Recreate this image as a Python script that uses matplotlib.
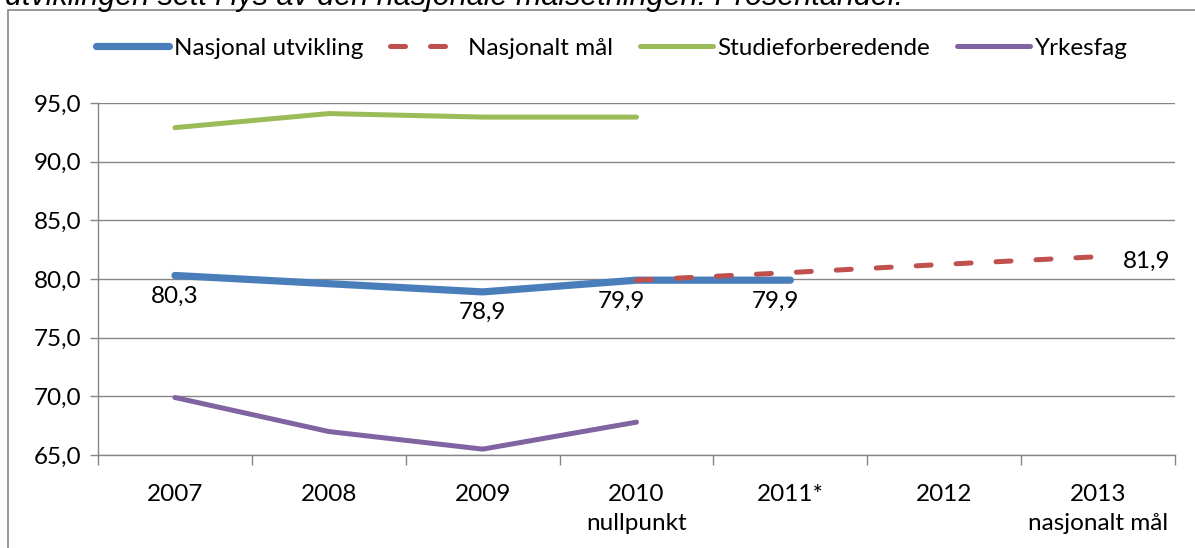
import matplotlib
matplotlib.use("Agg")
import matplotlib.pyplot as plt
from matplotlib.lines import Line2D
from matplotlib.patches import Rectangle

plt.rcParams['font.family'] = ['Lato', 'DejaVu Sans']

categories = ["2007", "2008", "2009", "2010\nnullpunkt", "2011*", "2012", "2013\nnasjonalt mål"]
nasjonal_utvikling = [80.3, 79.6, 78.9, 79.9, 79.9]
nasjonalt_maal = [79.9, 80.55, 81.25, 81.9]          # 2010-2013
studieforberedende = [92.9, 94.1, 93.8, 93.8]          # 2007-2010
yrkesfag = [69.9, 67.0, 65.5, 67.8]                    # 2007-2010
yticks = [65.0, 70.0, 75.0, 80.0, 85.0, 90.0, 95.0]
title = "utviklingen sett i lys av den nasjonale målsetningen. Prosentandel."

BLUE = "#4a7ebb"
RED = "#c0504d"
GREEN = "#9bbb59"
PURPLE = "#8064a2"
FS = 17.5

fig = plt.figure(figsize=(11.95, 5.48), dpi=100)
ax = fig.add_axes([98/1195, 1-455/548, (1175-98)/1195, (455-103)/548])

x_all = list(range(len(categories)))
ax.plot(x_all[:len(studieforberedende)], studieforberedende, color=GREEN, lw=3.6,
        solid_capstyle='round', solid_joinstyle='round', zorder=3)
ax.plot(x_all[:len(yrkesfag)], yrkesfag, color=PURPLE, lw=3.6,
        solid_capstyle='round', solid_joinstyle='round', zorder=3)
ax.plot(x_all[:len(nasjonal_utvikling)], nasjonal_utvikling, color=BLUE, lw=5.2,
        solid_capstyle='round', solid_joinstyle='round', zorder=3)
start = 3
ax.plot(x_all[start:start+len(nasjonalt_maal)], nasjonalt_maal, color=RED, lw=3.6,
        dashes=(3, 5), dash_capstyle='round', zorder=4)

def fmt(v):
    return f"{v:.1f}".replace(".", ",")

# data labels
for i in [0, 2, 3, 4]:
    dx = -11 if i in (3, 4) else 0
    ax.annotate(fmt(nasjonal_utvikling[i]), (x_all[i], nasjonal_utvikling[i]),
                xytext=(dx, -15), textcoords='offset points', ha='center', va='center',
                fontsize=FS, color='black', zorder=5)
ax.annotate(fmt(nasjonalt_maal[-1]), (x_all[start+len(nasjonalt_maal)-1], nasjonalt_maal[-1]),
            xytext=(35, -3), textcoords='offset points', ha='center', va='center',
            fontsize=FS, color='black', zorder=5)

ax.set_xlim(-0.5, len(categories)-0.5)
ax.set_ylim(65, 95)
ax.set_yticks(yticks)
ax.set_yticklabels([fmt(v) for v in yticks], fontsize=FS)
ax.set_xticks(x_all)
ax.set_xticklabels(categories, fontsize=FS, linespacing=1.45, va='top')
ax.set_xticks([i - 0.5 for i in range(len(categories)+1)], minor=True)
ax.tick_params(axis='x', which='major', length=0, pad=21)
ax.tick_params(axis='x', which='minor', length=7, color='#868686', width=1)
ax.tick_params(axis='y', length=6, color='#868686', width=1, pad=6)
ax.grid(axis='y', color='#868686', lw=1)
ax.set_axisbelow(True)
for s in ['top', 'right']:
    ax.spines[s].set_visible(False)
for s in ['left', 'bottom']:
    ax.spines[s].set_color('#868686')
    ax.spines[s].set_linewidth(1)

handles = [
    Line2D([], [], color=BLUE, lw=5.2, solid_capstyle='round'),
    Line2D([], [], color=RED, lw=3.6, dashes=(3, 5), dash_capstyle='round'),
    Line2D([], [], color=GREEN, lw=3.6, solid_capstyle='round'),
    Line2D([], [], color=PURPLE, lw=3.6, solid_capstyle='round'),
]
labels = ["Nasjonal utvikling", "Nasjonalt mål", "Studieforberedende", "Yrkesfag"]
fig.legend(handles, labels, loc='center', bbox_to_anchor=(612/1195, 1-48/548), ncol=4,
           frameon=False, fontsize=FS, handlelength=3.0, handletextpad=0.2, columnspacing=1.1)

# outer frame
fig.patches.append(Rectangle((8/1195, -0.1), 1.2, 1-10/548+0.1, transform=fig.transFigure,
                             fill=False, edgecolor='#868686', lw=1.2))
fig.text(5/1195, 1-5/548, title, fontsize=22, style='italic', family='Liberation Sans',
         ha='left', va='baseline', color='black')

fig.savefig("out.png", dpi=100)
